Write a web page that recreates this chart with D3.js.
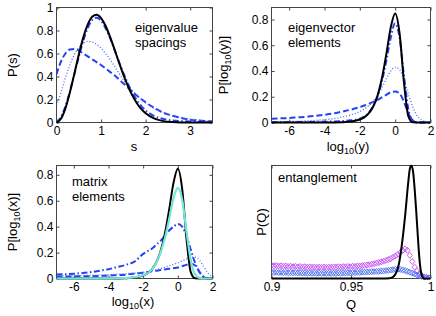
<!DOCTYPE html>
<html lang="en">
<head>
<meta charset="UTF-8">
<title>Spectral statistics</title>
<script src="https://d3js.org/d3.v7.min.js"></script>
<style>
  body { margin: 0; background: #fff; }
  svg { display: block; font-family: "Liberation Sans", Arial, sans-serif; }
  .tick text { font-size: 12px; fill: #000; }
  .tick line { stroke: #444; }
  .note, .lab { font-size: 13px; fill: #000; }
</style>
</head>
<body>
<svg width="436" height="316"></svg>
<script>
// ---- eigenvalue spacings ----
const sGrid = [0,0.1,0.2,0.3,0.4,0.5,0.6,0.7,0.8,0.9,1.0,1.1,1.2,1.3,1.4,1.5,1.6,1.7,1.8,1.9,2.0,2.2,2.4,2.6,2.8,3.0,3.25,3.5];
const spBlack   = [0,0.032,0.123,0.260,0.423,0.590,0.738,0.851,0.919,0.936,0.908,0.841,0.746,0.637,0.524,0.416,0.319,0.237,0.170,0.118,0.080,0.033,0.012,0.004,0.001,0.0003,0,0];
const spDashDot = [0,0.05,0.14,0.27,0.42,0.57,0.71,0.82,0.89,0.91,0.885,0.82,0.735,0.635,0.53,0.43,0.34,0.26,0.195,0.145,0.105,0.055,0.03,0.018,0.012,0.008,0.005,0.003];
const spDotted  = [0.15,0.26,0.39,0.5,0.59,0.65,0.69,0.705,0.70,0.68,0.645,0.60,0.55,0.49,0.43,0.37,0.32,0.28,0.24,0.20,0.17,0.12,0.085,0.06,0.04,0.03,0.02,0.012];
const spDashed  = [0.42,0.53,0.60,0.635,0.64,0.625,0.60,0.575,0.55,0.525,0.50,0.47,0.44,0.41,0.375,0.34,0.305,0.27,0.235,0.205,0.175,0.125,0.085,0.06,0.04,0.025,0.015,0.01];

// ---- log10 grid shared by eigenvector / matrix element panels ----
const uGrid = [-7,-6.5,-6,-5.5,-5,-4.5,-4,-3.5,-3,-2.5,-2,-1.75,-1.5,-1.25,-1,-0.75,-0.5,-0.25,0,0.25,0.5,0.75,1,1.25,1.5,1.75,2];

// eigenvector elements
const evBlack   = [0,0,0,0,0,0,0.0001,0.0007,0.0023,0.0073,0.023,0.040,0.071,0.122,0.208,0.343,0.531,0.738,0.847,0.692,0.308,0.047,0.001,0,0,0,0];
const evDashDot = [0.002,0.002,0.003,0.003,0.004,0.005,0.006,0.008,0.011,0.017,0.03,0.045,0.075,0.125,0.2,0.32,0.48,0.66,0.77,0.66,0.36,0.1,0.015,0,0,0,0];
const evDotted  = [0.005,0.006,0.008,0.01,0.013,0.017,0.022,0.03,0.042,0.06,0.085,0.105,0.13,0.165,0.21,0.27,0.34,0.40,0.43,0.41,0.33,0.22,0.12,0.05,0.02,0.005,0];
const evDashed  = [0.03,0.032,0.035,0.04,0.045,0.052,0.06,0.07,0.085,0.1,0.12,0.132,0.145,0.16,0.175,0.195,0.215,0.235,0.24,0.225,0.16,0.07,0.015,0,0,0,0];

// matrix elements
const meBlack   = [0,0,0,0,0,0,0.0001,0.0007,0.0023,0.0073,0.023,0.040,0.071,0.122,0.208,0.343,0.531,0.738,0.847,0.692,0.308,0.047,0.001,0,0,0,0];
const meCyan    = [0,0,0,0,0,0,0.001,0.002,0.004,0.01,0.025,0.04,0.07,0.12,0.2,0.31,0.46,0.62,0.70,0.61,0.36,0.14,0.03,0.005,0,0,0];
const meDashDot = [0.03,0.033,0.037,0.042,0.05,0.06,0.072,0.088,0.105,0.13,0.19,0.21,0.23,0.26,0.29,0.33,0.37,0.40,0.42,0.40,0.33,0.22,0.12,0.05,0.01,0,0];
const meDotted  = [0.02,0.021,0.022,0.023,0.025,0.027,0.03,0.033,0.038,0.042,0.048,0.053,0.06,0.068,0.077,0.087,0.098,0.11,0.12,0.135,0.15,0.162,0.165,0.14,0.09,0.04,0.01];
const meDashed  = [0.015,0.015,0.016,0.017,0.018,0.02,0.022,0.026,0.03,0.037,0.045,0.05,0.055,0.06,0.065,0.07,0.075,0.08,0.085,0.095,0.105,0.113,0.10,0.05,0.012,0,0];

// ---- entanglement ----
const qGrid = [0.9,0.9015,0.903,0.9045,0.906,0.9075,0.909,0.9105,0.912,0.9135,
  0.915,0.9165,0.918,0.9195,0.921,0.9225,0.924,0.9255,0.927,0.9285,
  0.93,0.9315,0.933,0.9345,0.936,0.9375,0.939,0.9405,0.942,0.9435,
  0.945,0.9465,0.948,0.9495,0.951,0.9525,0.954,0.9555,0.957,0.9585,
  0.96,0.9615,0.963,0.9645,0.966,0.9675,0.969,0.9705,0.972,0.9735,
  0.975,0.9765,0.978,0.9795,0.981,0.9825,0.984,0.9855,0.987,0.9885,
  0.99,0.9915,0.993,0.9945,0.996,0.9975,0.999];
const qMagenta = [0.118,0.112,0.115,0.110,0.113,0.108,0.111,0.106,0.109,0.104,
  0.107,0.103,0.106,0.101,0.104,0.100,0.103,0.099,0.102,0.098,
  0.101,0.099,0.102,0.098,0.101,0.099,0.103,0.100,0.104,0.101,
  0.105,0.103,0.107,0.104,0.108,0.106,0.111,0.109,0.114,0.116,
  0.120,0.123,0.127,0.131,0.136,0.141,0.147,0.153,0.160,0.168,
  0.177,0.188,0.200,0.214,0.230,0.248,0.262,0.250,0.205,0.150,
  0.100,0.065,0.040,0.025,0.015,0.009,0.005];
const qBlue = [0.058,0.054,0.056,0.052,0.055,0.051,0.054,0.050,0.053,0.049,
  0.052,0.048,0.051,0.047,0.050,0.046,0.049,0.046,0.048,0.045,
  0.048,0.045,0.047,0.044,0.047,0.045,0.048,0.045,0.049,0.046,
  0.050,0.048,0.051,0.049,0.053,0.051,0.055,0.053,0.057,0.056,
  0.059,0.058,0.061,0.060,0.063,0.063,0.066,0.067,0.070,0.072,
  0.075,0.078,0.081,0.082,0.080,0.076,0.070,0.063,0.056,0.048,
  0.040,0.032,0.025,0.018,0.012,0.008,0.005];
const qLine  = [0.9,0.97,0.974,0.976,0.978,0.98,0.982,0.984,0.986,0.987,0.988,0.989,0.99,0.991,0.992,0.993,0.994,0.995,0.996,1.0];
const qBlack = [0,0,0.003,0.01,0.04,0.12,0.3,0.55,0.85,0.97,1.0,0.95,0.8,0.6,0.38,0.18,0.06,0.015,0,0];

const svg = d3.select("svg");
const BLUE = "#2442f5";
const styles = {
  solid:   { stroke: "#000", width: 2, dash: null },
  cyan:    { stroke: "#72e6d6", width: 2.2, dash: null },
  dashed:  { stroke: BLUE, width: 2, dash: "6,3" },
  dashdot: { stroke: BLUE, width: 2, dash: "6,2.5,1.5,2.5" },
  dotted:  { stroke: "#4d66ff", width: 1.3, dash: "1,2" }
};

let clipId = 0;
function makePanel(o) {
  const x = d3.scaleLinear().domain(o.xDomain).range([o.x0, o.x1]);
  const y = d3.scaleLinear().domain(o.yDomain).range([o.y1, o.y0]);
  const g = svg.append("g");
  const id = "clip" + (clipId++);
  g.append("clipPath").attr("id", id).append("rect")
    .attr("x", o.x0).attr("y", o.y0 - 1).attr("width", o.x1 - o.x0).attr("height", o.y1 - o.y0 + 2.5);

  const fmt = d => String(+d.toFixed(3));
  const bottom = d3.axisBottom(x).tickValues(o.xTicks).tickFormat(fmt).tickSizeInner(-3).tickSizeOuter(0).tickPadding(4);
  const top = d3.axisTop(x).tickValues(o.xTicks).tickFormat("").tickSizeInner(-3).tickSizeOuter(0);
  g.append("g").attr("transform", `translate(0,${o.y1})`).call(bottom);
  g.append("g").attr("transform", `translate(0,${o.y0})`).call(top);
  if (o.yTicks) {
    const left = d3.axisLeft(y).tickValues(o.yTicks).tickFormat(fmt).tickSizeInner(-3).tickSizeOuter(0).tickPadding(3);
    const right = d3.axisRight(y).tickValues(o.yTicks).tickFormat("").tickSizeInner(-3).tickSizeOuter(0);
    g.append("g").attr("transform", `translate(${o.x0},0)`).call(left);
    g.append("g").attr("transform", `translate(${o.x1},0)`).call(right);
  }
  g.selectAll(".domain").remove();
  g.selectAll(".tick text").attr("font-family", null).attr("font-size", null);
  g.append("rect").attr("x", o.x0).attr("y", o.y0)
    .attr("width", o.x1 - o.x0).attr("height", o.y1 - o.y0)
    .attr("fill", "none").attr("stroke", "#444").attr("stroke-width", 1);
  const plot = g.append("g").attr("clip-path", `url(#${id})`);
  return { g, plot, x, y };
}

function addLine(p, xs, ys, style) {
  const s = styles[style];
  const line = d3.line().x(d => p.x(d[0])).y(d => p.y(d[1])).curve(d3.curveMonotoneX);
  p.plot.append("path").datum(d3.zip(xs, ys))
    .attr("d", line).attr("fill", "none")
    .attr("stroke", s.stroke).attr("stroke-width", s.width)
    .attr("stroke-dasharray", s.dash)
    .attr("stroke-linejoin", "round");
}

function note(p, x, y, lines, dy) {
  lines.forEach((t, i) => p.g.append("text").attr("class", "note")
    .attr("x", x).attr("y", y + i * dy).text(t));
}

// text with an optional subscript part
function richText(sel, parts) {
  parts.forEach(([t, kind]) => {
    const ts = sel.append("tspan").text(t);
    if (kind === "sub") ts.attr("font-size", 9).attr("dy", 3);
    else if (kind === "up") ts.attr("dy", -3);
  });
}
function xLabel(p, cx, y, parts) {
  const t = p.g.append("text").attr("class", "lab").attr("x", cx).attr("y", y).attr("text-anchor", "middle");
  richText(t, parts);
}
function yLabel(p, cx, cy, parts) {
  const t = p.g.append("text").attr("class", "lab").attr("text-anchor", "middle")
    .attr("transform", `translate(${cx},${cy}) rotate(-90)`).attr("y", 0).attr("dy", "0.35em");
  richText(t, parts);
}

// ---- panel 1: eigenvalue spacings ----
const p1 = makePanel({ x0: 56.5, x1: 212.5, y0: 7.5, y1: 122.5, xDomain: [0, 3.5], yDomain: [0, 1],
  xTicks: [0, 1, 2, 3], yTicks: [0, 0.2, 0.4, 0.6, 0.8, 1] });
addLine(p1, sGrid, spDashed, "dashed");
addLine(p1, sGrid, spDotted, "dotted");
addLine(p1, sGrid, spDashDot, "dashdot");
addLine(p1, sGrid, spBlack, "solid");
note(p1, 135, 32, ["eigenvalue", "spacings"], 15);
xLabel(p1, 134, 151, [["s"]]);
yLabel(p1, 12, 65, [["P(s)"]]);

// ---- panel 2: eigenvector elements ----
const p2 = makePanel({ x0: 271.5, x1: 430.5, y0: 7.5, y1: 122.5, xDomain: [-7, 2], yDomain: [0, 0.893],
  xTicks: [-6, -4, -2, 0, 2], yTicks: [0, 0.2, 0.4, 0.6, 0.8] });
addLine(p2, uGrid, evDashed, "dashed");
addLine(p2, uGrid, evDotted, "dotted");
addLine(p2, uGrid, evDashDot, "dashdot");
addLine(p2, uGrid, evBlack, "solid");
note(p2, 288, 32, ["eigenvector", "elements"], 15);
xLabel(p2, 348, 151, [["log"], ["10", "sub"], ["(y)", "up"]]);
yLabel(p2, 223, 65, [["P[log"], ["10", "sub"], ["(y)]", "up"]]);

// ---- panel 3: matrix elements ----
const p3 = makePanel({ x0: 56.5, x1: 212.5, y0: 165.5, y1: 278.5, xDomain: [-7, 2], yDomain: [0, 0.872],
  xTicks: [-6, -4, -2, 0, 2], yTicks: [0, 0.2, 0.4, 0.6, 0.8] });
addLine(p3, uGrid, meDashed, "dashed");
addLine(p3, uGrid, meDotted, "dotted");
addLine(p3, uGrid, meDashDot, "dashdot");
addLine(p3, uGrid, meBlack, "solid");
addLine(p3, uGrid, meCyan, "cyan");
note(p3, 72, 186, ["matrix", "elements"], 15);
xLabel(p3, 133, 306, [["log"], ["10", "sub"], ["(x)", "up"]]);
yLabel(p3, 12, 222, [["P[log"], ["10", "sub"], ["(x)]", "up"]]);

// ---- panel 4: entanglement ----
const p4 = makePanel({ x0: 271.5, x1: 430.5, y0: 165.5, y1: 278.5, xDomain: [0.9, 1], yDomain: [0, 1],
  xTicks: [0.9, 0.95, 1], yTicks: null });
const diamond = "M0,-3L2.6,0L0,3L-2.6,0Z";
[[qMagenta, "#c34cf5"], [qBlue, "#4a6cf2"]].forEach(([vals, col]) => {
  p4.plot.selectAll(null).data(d3.zip(qGrid, vals)).join("path")
    .attr("d", diamond)
    .attr("transform", d => `translate(${p4.x(d[0])},${p4.y(d[1])})`)
    .attr("fill", "none").attr("stroke", col).attr("stroke-width", 0.9);
});
addLine(p4, qLine, qBlack, "solid");
note(p4, 278, 182, ["entanglement"], 15);
xLabel(p4, 351, 309, [["Q"]]);
yLabel(p4, 261, 222, [["P(Q)"]]);
</script>
</body>
</html>
